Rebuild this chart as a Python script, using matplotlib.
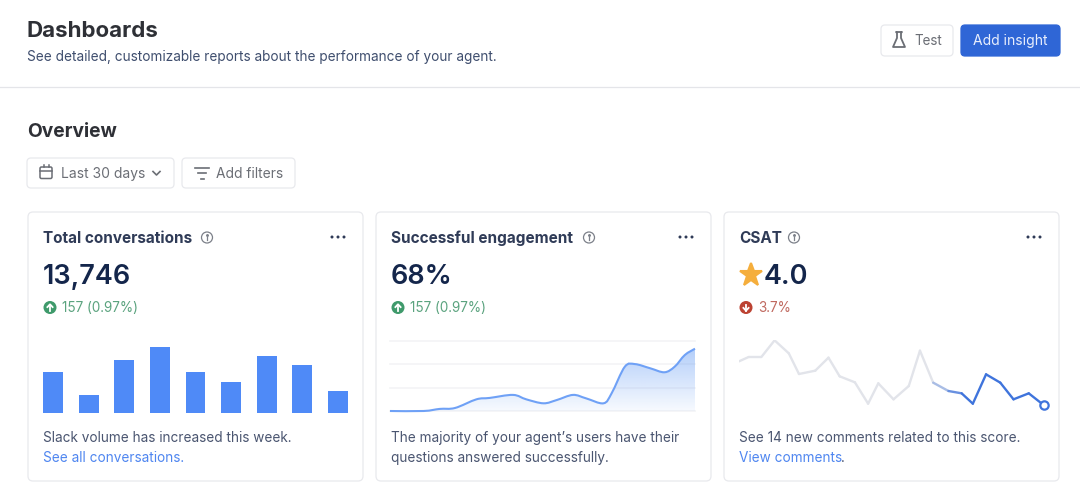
import numpy as np
import matplotlib
matplotlib.use("Agg")
import matplotlib.pyplot as plt
from matplotlib.collections import LineCollection
from matplotlib.patches import FancyBboxPatch, Circle, PathPatch
from matplotlib.path import Path

plt.rcParams['font.family'] = ['Inter', 'DejaVu Sans']

bar_values = [41, 18, 53, 66, 41, 31, 57, 48, 22]

engagement_days = [0, 3.3, 4.9, 6.4, 8.5, 9.8, 12.1, 13.4, 15.1, 16.4, 18, 19.3, 21,
                   21.8, 23.1, 24.1, 25.6, 27, 28, 29, 30]
engagement_values = [0, 0, 0.09, 0.13, 0.5, 0.56, 0.69, 0.5, 0.33, 0.47, 0.69, 0.54, 0.33,
                     0.76, 1.9, 2.01, 1.83, 1.66, 1.9, 2.4, 2.67]
engagement_grid = [0, 1, 2, 3]

csat_days = [0, 0.95, 2.2, 3.5, 4.9, 5.9, 7.5, 8.8, 9.9, 11.4, 12.7, 13.7, 15.2, 16.7,
             17.8, 19.1, 20.6, 21.9, 23, 24.3, 25.7, 27, 28.5, 30]
csat_values = [4.66, 4.725, 4.725, 4.975, 4.78, 4.47, 4.52, 4.715, 4.435, 4.345, 4.025, 4.33,
               4.09, 4.29, 4.82, 4.34, 4.215, 4.18, 4.025, 4.465, 4.34, 4.09, 4.18, 4.0]

card_lefts = [28, 376, 724]
card_titles = ["Total conversations", "Successful engagement", "CSAT"]
title_widths = [158, 192, 49]
card_numbers = ["13,746", "68%", "4.0"]
card_deltas = ["157 (0.97%)", "157 (0.97%)", "3.7%"]
card_lines = [["Slack volume has increased this week.", "See all conversations."],
              ["The majority of your agent\u2019s users have their", "questions answered successfully."],
              ["See 14 new comments related to this score.", "View comments"]]

BLUE = "#4F8AF7"
LINE_BLUE = "#6FA1F6"
DARK_BLUE = "#3F74DC"
BTN_BLUE = "#2F66D6"
BORDER = "#E8E9ED"
HEAD = "#2E3036"
NAVY = "#14264B"
SLATE = "#2F3B57"
BODY = "#4A5570"
GRAY = "#6B6E75"
LINK = "#4F86F0"


def px_axes(fig, x0, y0, x1, y1):
    ax = fig.add_axes([x0 / 1080, 1 - y1 / 500, (x1 - x0) / 1080, (y1 - y0) / 500])
    ax.axis("off")
    ax.patch.set_alpha(0)
    return ax


def box(ax, x0, y0, x1, y1, fc="white", ec=BORDER, r=4, lw=0.9):
    ax.add_patch(FancyBboxPatch((x0 + r, y0 + r), x1 - x0 - 2 * r, y1 - y0 - 2 * r,
                                boxstyle="round,pad=%d,rounding_size=%d" % (r, r),
                                fc=fc, ec=ec, lw=lw))


def txt(ax, x, y, s, px, color, weight="normal", ha="left"):
    return ax.text(x, y, s, fontsize=px * 0.72, color=color, fontweight=weight,
                   ha=ha, va="baseline")


def smooth_path(x, y):
    # catmull-rom through the read points
    x = np.asarray(x, float)
    y = np.asarray(y, float)
    verts = [(x[0], y[0])]
    codes = [Path.MOVETO]
    for i in range(len(x) - 1):
        p0 = max(i - 1, 0)
        p3 = min(i + 2, len(x) - 1)
        c1 = (x[i] + (x[i + 1] - x[p0]) / 6, y[i] + (y[i + 1] - y[p0]) / 6)
        c2 = (x[i + 1] - (x[p3] - x[i]) / 6, y[i + 1] - (y[p3] - y[i]) / 6)
        verts += [c1, c2, (x[i + 1], y[i + 1])]
        codes += [Path.CURVE4] * 3
    return verts, codes


def arrow_badge(ax, x, y, color, up=True):
    ax.add_patch(Circle((x, y), 6.5, fc=color, ec="none"))
    d = -1 if up else 1
    ax.plot([x, x], [y - 3 * d, y + 3 * d], color="white", lw=1.3)
    ax.plot([x - 2.6, x, x + 2.6], [y + 0.4 * d, y + 3.2 * d, y + 0.4 * d], color="white", lw=1.3)


def info_icon(ax, x, y):
    ax.add_patch(Circle((x, y), 5.5, fc="none", ec="#7C8089", lw=0.9))
    ax.plot([x, x], [y - 0.4, y + 2.6], color="#7C8089", lw=0.9)
    ax.plot([x], [y - 2.4], marker="o", ms=1.1, color="#7C8089")


fig = plt.figure(figsize=(10.8, 5), dpi=100, facecolor="white")
bg = fig.add_axes([0, 0, 1, 1])
bg.set_xlim(0, 1080)
bg.set_ylim(500, 0)
bg.axis("off")

# header
txt(bg, 27, 37, "Dashboards", 22.3, HEAD, "bold")
txt(bg, 27, 61, "See detailed, customizable reports about the performance of your agent.", 13.6, "#3F4E6E")
bg.plot([0, 1080], [86.5, 86.5], color="#E4E5E9", lw=0.9)

box(bg, 881, 25, 953, 56)
flask = [(896, 32), (902, 32), (901, 33), (901, 38), (905, 47), (893, 47), (897, 38), (897, 33)]
bg.add_patch(plt.Polygon(flask, fc="none", ec=GRAY, lw=1.3, joinstyle="round"))
txt(bg, 914, 45, "Test", 13.5, GRAY)
box(bg, 961, 25, 1060, 56, fc=BTN_BLUE, ec=BTN_BLUE)
txt(bg, 973, 45, "Add insight", 13.9, "#E8EEFC")

txt(bg, 27, 137, "Overview", 19.2, HEAD, "bold")

box(bg, 27, 158, 174, 188)
bg.add_patch(FancyBboxPatch((40, 167), 12, 11.5, boxstyle="round,pad=0,rounding_size=1.5", fc="none", ec=GRAY, lw=1.1))
bg.plot([40, 52], [170.5, 170.5], color=GRAY, lw=1.1)
bg.plot([43.5, 43.5], [164.5, 167], color=GRAY, lw=1.1)
bg.plot([48.5, 48.5], [164.5, 167], color=GRAY, lw=1.1)
txt(bg, 61, 178, "Last 30 days", 13.9, GRAY)
bg.plot([153, 156.5, 160], [171.5, 175, 171.5], color=GRAY, lw=1.2)

box(bg, 182, 158, 295, 188)
bg.plot([195, 209], [167.5, 167.5], color=GRAY, lw=1.2)
bg.plot([198, 206], [173, 173], color=GRAY, lw=1.2)
bg.plot([200.5, 203.5], [178.5, 178.5], color=GRAY, lw=1.2)
txt(bg, 216, 178, "Add filters", 13.8, GRAY)

# cards
for i, left in enumerate(card_lefts):
    box(bg, left, 212, left + 335, 481, r=5)
    tx = left + 15
    txt(bg, tx, 243, card_titles[i], 15.3, SLATE, "bold")
    info_icon(bg, tx + title_widths[i] + 6, 237.5)
    for dx in [304, 310, 316]:
        bg.add_patch(Circle((left + dx, 237), 1.5, fc=SLATE, ec="none"))
    num_x = tx if i < 2 else tx + 25
    txt(bg, num_x, 284, card_numbers[i], 27, NAVY, "semibold")
    if i < 2:
        arrow_badge(bg, tx + 7, 307.5, "#3F9A6B", up=True)
        txt(bg, tx + 19, 312, card_deltas[i], 13.5, "#5BA37F")
    else:
        arrow_badge(bg, tx + 7, 307.5, "#BC4232", up=False)
        txt(bg, tx + 19, 312, card_deltas[i], 13.5, "#C0695F")
    txt(bg, tx, 442, card_lines[i][0], 13.6, BODY)
    txt(bg, tx, 462 if i != 2 else 462.5, card_lines[i][1], 13.6, LINK if i != 1 else BODY)

txt(bg, 841, 462.5, ".", 13.6, BODY)
bg.plot([750.5], [274.5], marker="*", ms=17, color="#F5AE3C", mec="#F5AE3C", mew=1.5, mfc="#F5AE3C")

# bars
ax1 = px_axes(fig, 43, 347, 348, 413)
ax1.bar(range(len(bar_values)), bar_values, width=0.56, color=BLUE)
ax1.set_xlim(-0.28, len(bar_values) - 1 + 0.28)
ax1.set_ylim(0, max(bar_values))

# engagement line
ax2 = px_axes(fig, 390, 341, 695, 411)
for g in engagement_grid:
    ax2.axhline(g, color="#F3F4F6", lw=1.2, clip_on=False, zorder=1)
verts, codes = smooth_path(engagement_days, engagement_values)
rgba = np.zeros((256, 1, 4))
rgba[..., 0] = 0.38
rgba[..., 1] = 0.60
rgba[..., 2] = 0.96
rgba[..., 3] = 0.05 + 0.43 * np.linspace(0, 1, 256).reshape(-1, 1)
im = ax2.imshow(rgba, extent=[0, 30, 0, max(engagement_values)], origin="lower", aspect="auto", zorder=2)
clip = PathPatch(Path(verts + [(30, 0), (0, 0), (0, 0)], codes + [Path.LINETO, Path.LINETO, Path.CLOSEPOLY]),
                 fc="none", ec="none", transform=ax2.transData)
ax2.add_patch(clip)
im.set_clip_path(clip)
ax2.set_xlim(engagement_days[0], engagement_days[-1])
ax2.set_ylim(engagement_grid[0], engagement_grid[-1])
ax2.add_patch(PathPatch(Path(verts, codes), fc="none", ec=LINE_BLUE, lw=1.5, zorder=3, clip_on=False))

# csat line, gray that turns blue toward the end
ax3 = px_axes(fig, 739, 340, 1044, 406)
ax3.set_xlim(csat_days[0], csat_days[-1])
ax3.set_ylim(3.99, 4.98)
pts = np.column_stack([csat_days, csat_values])
segs = np.stack([pts[:-1], pts[1:]], axis=1)
gray = np.array(matplotlib.colors.to_rgb("#E2E4EA"))
blue = np.array(matplotlib.colors.to_rgb(DARK_BLUE))
mix = [0.0] * 15 + [0.35, 0.75] + [1.0] * 6
colors = [tuple(gray * (1 - m) + blue * m) for m in mix]
ax3.add_collection(LineCollection(segs, colors=colors, linewidths=1.7, capstyle="round", joinstyle="round"))
ax3.plot(csat_days[-1], csat_values[-1], marker="o", ms=6, mfc="white", mec=DARK_BLUE, mew=1.6, clip_on=False)

fig.savefig("out.png", dpi=100, facecolor="white")
